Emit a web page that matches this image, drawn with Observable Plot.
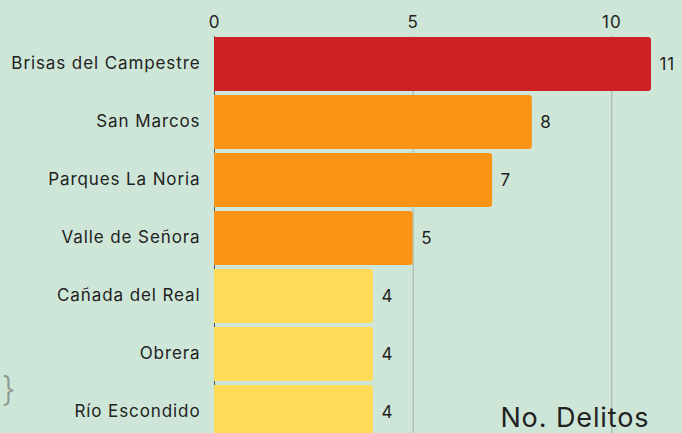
<!DOCTYPE html>
<html>
<head>
<meta charset="utf-8">
<script src="https://cdn.jsdelivr.net/npm/d3@7"></script>
<script src="https://cdn.jsdelivr.net/npm/@observablehq/plot@0.6"></script>
<style>
html,body{margin:0;padding:0;background:#cee6d7;overflow:hidden}
svg{display:block}
svg text{letter-spacing:0.9px}
</style>
</head>
<body>
<div id="chart"></div>
<script>
const colonias = ["Brisas del Campestre","San Marcos","Parques La Noria","Valle de Señora","Cañada del Real","Obrera","Río Escondido"];
const delitos = [11,8,7,5,4,4,4];
const colores = ["#cc2222","#fb9416","#fb9416","#fb9416","#ffdb58","#ffdb58","#ffdb58"];
const ticks = [0,5,10];
const table = colonias.map((c,i)=>({colonia:c,n:delitos[i],color:colores[i]}));
const font = "Inter, sans-serif";
const chart = Plot.plot({
  width:682,height:433,
  marginLeft:214,marginRight:0,marginTop:36,marginBottom:0,
  style:{background:"transparent",fontFamily:font,fontSize:"16px",color:"#222"},
  x:{domain:[0,11.78],range:[214,682],axis:null},
  y:{domain:colonias,range:[31.9,443.7],padding:0.07,axis:null},
  marks:[
    Plot.ruleX(ticks,{x:d=>d,stroke:"#9fb1a8",strokeWidth:1}),
    Plot.ruleX([0],{stroke:"#555",strokeWidth:1}),
    Plot.barX(table,{y:"colonia",x:"n",fill:"color",rx2:3}),
    Plot.text(table,{y:"colonia",x:"n",text:d=>String(d.n),dx:8,textAnchor:"start",fill:"#222",fontSize:17}),
    Plot.text(table,{y:"colonia",x:()=>0,text:"colonia",dx:-14,dy:-0.5,textAnchor:"end",fill:"#222",fontSize:17}),
    Plot.text(ticks,{x:d=>d,frameAnchor:"top",dy:-21,text:d=>String(d),fill:"#222",fontSize:17}),
    Plot.text(["No. Delitos"],{frameAnchor:"bottom-right",dx:-33,dy:-7,fill:"#222",fontSize:27,text:d=>d}),
    Plot.text(["}"],{frameAnchor:"bottom-left",dx:-213,dy:-33,fill:"#8f9a94",fontSize:34,fontWeight:300,text:d=>d})
  ]
});
document.getElementById("chart").append(chart);
</script>
</body>
</html>
